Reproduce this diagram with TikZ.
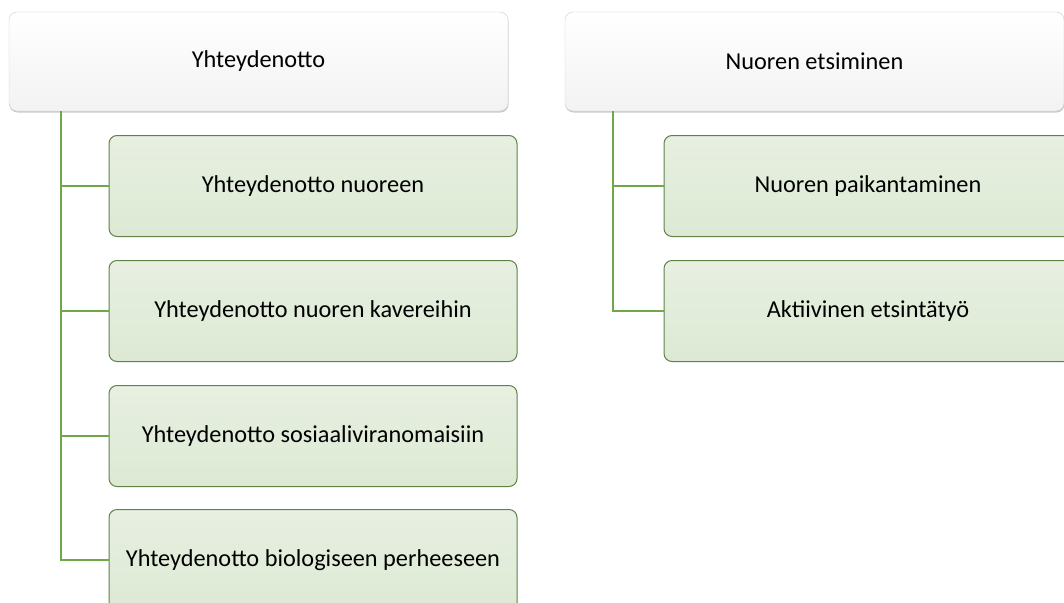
\documentclass[tikz,border=0pt]{standalone}
\usepackage{fontspec}
\setmainfont{Carlito}
\usetikzlibrary{calc}
\usetikzlibrary{shadows}
\definecolor{vihrea}{RGB}{112,168,72}
\definecolor{reuna}{RGB}{96,130,70}
\definecolor{taytto}{RGB}{221,233,212}
\tikzset{
  paa/.style={rectangle, rounded corners=8pt, draw=gray!40, top color=white, bottom color=gray!10,
    minimum width=499pt, minimum height=99pt, font=\fontsize{24.3}{29}\selectfont,
    drop shadow={shadow xshift=0.5pt, shadow yshift=-1.5pt, opacity=0.4}},
  ala/.style={rectangle, rounded corners=8pt, draw=reuna, line width=1pt, top color=taytto!70!white,
    bottom color=taytto, minimum width=408pt, minimum height=101pt, font=\fontsize{24.3}{29}\selectfont},
  yhteys/.style={draw=vihrea, line width=1.5pt}
}
\begin{document}
\begin{tikzpicture}[x=1pt,y=-1pt]
    \clip (0,0) rectangle (1064,602);

    % paalaatikot
    \node[paa] (Y) at (258.5,61.5) {Yhteydenotto};
    \node[paa] (N) at (814.5,61.5) {Nuoren etsiminen};

    % alalaatikot vasemmalla
    \node[ala] (Y1) at (313,186) {Yhteydenotto nuoreen};
    \node[ala] (Y2) at (313,311) {Yhteydenotto nuoren kavereihin};
    \node[ala] (Y3) at (313,436) {Yhteydenotto sosiaaliviranomaisiin};
    \node[ala] (Y4) at (313,560) {Yhteydenotto biologiseen perheeseen};

    % alalaatikot oikealla
    \node[ala] (N1) at (868,186) {Nuoren paikantaminen};
    \node[ala] (N2) at (868,311) {Aktiivinen etsintätyö};

    % yhteysviivat
    \coordinate (Yv) at ($(Y.south west)+(52,0)$);
    \coordinate (Nv) at ($(N.south west)+(48,0)$);
    \foreach \k in {1,...,4}
        \draw[yhteys] (Yv) |- (Y\k.west);
    \foreach \k in {1,2}
        \draw[yhteys] (Nv) |- (N\k.west);
\end{tikzpicture}
\end{document}
